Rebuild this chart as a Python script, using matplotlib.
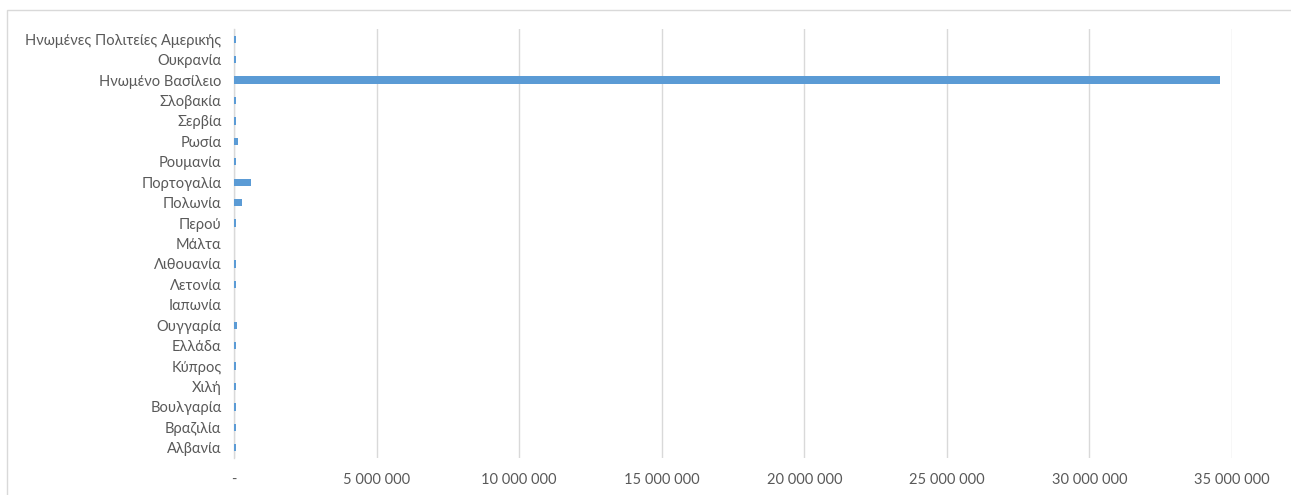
import matplotlib
matplotlib.use("Agg")
import matplotlib.pyplot as plt
from matplotlib.patches import Rectangle
from matplotlib.ticker import FuncFormatter

plt.rcParams['font.family'] = ['Lato', 'DejaVu Sans']

# Countries listed bottom to top
countries = [
    "Αλβανία", "Βραζιλία", "Βουλγαρία", "Χιλή", "Κύπρος", "Ελλάδα",
    "Ουγγαρία", "Ιαπωνία", "Λετονία", "Λιθουανία", "Μάλτα", "Περού",
    "Πολωνία", "Πορτογαλία", "Ρουμανία", "Ρωσία", "Σερβία", "Σλοβακία",
    "Ηνωμένο Βασίλειο", "Ουκρανία", "Ηνωμένες Πολιτείες Αμερικής",
]
values = [
    60000, 60000, 60000, 60000, 60000, 60000,
    110000, 0, 60000, 60000, 0, 60000,
    280000, 600000, 60000, 140000, 60000, 60000,
    34570000, 60000, 60000,
]
xticks = [0, 5000000, 10000000, 15000000, 20000000, 25000000, 30000000, 35000000]

fig = plt.figure(figsize=(12.91, 4.95), dpi=100)
ax = fig.add_axes([234 / 1291, 1 - 458 / 495, (1232 - 234) / 1291, 429 / 495])

# Outer chart frame
fig.patches.append(Rectangle((7 / 1291, -0.1), 1.2, 1 - 10 / 495 + 0.1,
                             transform=fig.transFigure, fill=False,
                             edgecolor="#d9d9d9", linewidth=1.0))

ypos = range(len(countries))
ax.barh(ypos, values, height=0.36, color="#5b9bd5", zorder=5)

ax.set_xlim(0, 35000000)
ax.set_ylim(-0.5, len(countries) - 0.5)
ax.set_yticks(list(ypos))
ax.set_yticklabels(countries)
ax.set_xticks(xticks)


def fmt(v, pos):
    if v == 0:
        return "-"
    return f"{int(v):,}".replace(",", " ")


ax.xaxis.set_major_formatter(FuncFormatter(fmt))
ax.grid(axis="x", color="#d9d9d9", linewidth=1.0, zorder=0)
ax.grid(axis="y", visible=False)
for side in ("top", "right", "bottom"):
    ax.spines[side].set_visible(False)
ax.spines["left"].set_color("#d9d9d9")
ax.spines["left"].set_linewidth(1.0)
ax.spines["left"].set_zorder(1)
ax.tick_params(axis="both", length=0, labelsize=10.5, colors="#595959")
ax.tick_params(axis="y", pad=9)
ax.tick_params(axis="x", pad=11)

fig.savefig("out.png", dpi=100)
